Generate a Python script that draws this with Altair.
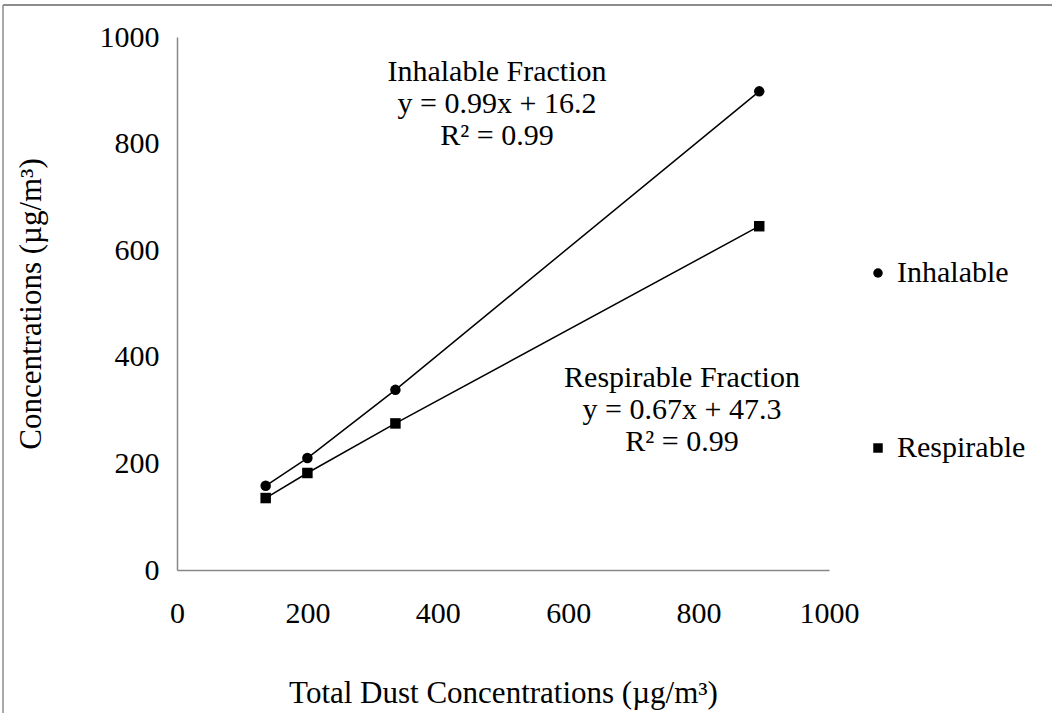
import altair as alt
import pandas as pd

# Data
total_dust = [136, 200, 335, 893]
inhalable = [158, 210, 338, 898]
respirable = [135, 182, 275, 645]
series_names = ["Inhalable", "Respirable"]
x_ticks = [0, 200, 400, 600, 800, 1000]
y_ticks = [0, 200, 400, 600, 800, 1000]
inhal_text = ["Inhalable Fraction", "y = 0.99x + 16.2", "R² = 0.99"]
resp_text = ["Respirable Fraction", "y = 0.67x + 47.3", "R² = 0.99"]
x_title = "Total Dust Concentrations (µg/m³)"
y_title = "Concentrations (µg/m³)"

FONT = "Liberation Serif"
FS = 30
FT = 31

rows = []
for xv, iv, rv in zip(total_dust, inhalable, respirable):
    rows.append({"x": xv, "y": iv, "series": series_names[0]})
    rows.append({"x": xv, "y": rv, "series": series_names[1]})
df = pd.DataFrame(rows)

W, H = 652, 533
PL, PT = 177, 37

xenc = alt.X("x:Q", scale=alt.Scale(domain=[0, 1000], nice=False),
             axis=alt.Axis(values=x_ticks, format="d", ticks=False, grid=False, domainColor="#888888",
                           domainWidth=1.5, labelFont=FONT, labelFontSize=FS, labelColor="black",
                           labelFlush=False, labelPadding=28, title=x_title, titleFont=FONT,
                           titleFontSize=FT, titleFontWeight="normal", titleColor="black",
                           titlePadding=50))
yenc = alt.Y("y:Q", scale=alt.Scale(domain=[0, 1000], nice=False),
             axis=alt.Axis(values=y_ticks, format="d", ticks=False, grid=False, domainColor="#888888",
                           domainWidth=1.5, labelFont=FONT, labelFontSize=FS, labelColor="black",
                           labelFlush=False, labelPadding=18, title=y_title, titleFont=FONT,
                           titleFontSize=FT, titleFontWeight="normal", titleColor="black",
                           titlePadding=52))

base = alt.Chart(df).encode(x=xenc, y=yenc)

lines = base.mark_line(color="black", strokeWidth=1.5).encode(detail="series:N")

points = base.mark_point(filled=True, color="black", opacity=1, size=110).encode(
    shape=alt.Shape("series:N",
                    scale=alt.Scale(domain=series_names, range=["circle", "square"]),
                    legend=alt.Legend(orient="none", legendX=686, legendY=221, title=None,
                                      labelFont=FONT, labelFontSize=FS, labelColor="black",
                                      symbolFillColor="black", symbolStrokeColor="black",
                                      symbolSize=90, rowPadding=145, labelOffset=4)),
)

dummy = pd.DataFrame({"a": [0]})
t1 = alt.Chart(dummy).mark_text(text=inhal_text, font=FONT, fontSize=FS, color="black",
                                align="center", baseline="middle", lineHeight=32).encode(
    x=alt.value(320), y=alt.value(35))
t2 = alt.Chart(dummy).mark_text(text=resp_text, font=FONT, fontSize=FS, color="black",
                                align="center", baseline="middle", lineHeight=32).encode(
    x=alt.value(505), y=alt.value(341))

frame_top = alt.Chart(dummy).mark_rule(stroke="#8c8c8c", strokeWidth=2).encode(
    x=alt.value(3 - PL), x2=alt.value(1052 - PL + 20), y=alt.value(5 - PT))
frame_left = alt.Chart(dummy).mark_rule(stroke="#8c8c8c", strokeWidth=1.5).encode(
    x=alt.value(3 - PL), y=alt.value(5 - PT), y2=alt.value(713 - PT + 20))

chart = alt.layer(frame_top, frame_left, lines, points, t1, t2).properties(
    width=W, height=H,
    autosize=alt.AutoSizeParams(type="none"),
    padding={"left": PL, "top": PT, "right": 1052 - PL - W, "bottom": 713 - PT - H},
    background="white",
).configure_view(stroke=None)

chart.save("out.html", embed_options={"renderer": "svg", "actions": False})
